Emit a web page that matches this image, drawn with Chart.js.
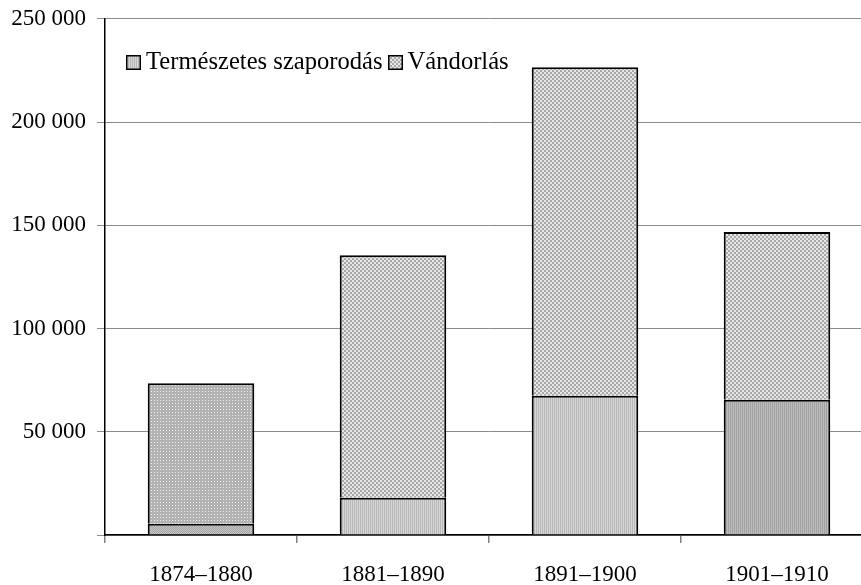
<!DOCTYPE html>
<html>
<head>
<meta charset="utf-8">
<script src="https://cdn.jsdelivr.net/npm/chart.js@4/dist/chart.umd.min.js"></script>
<style>
  html, body { margin:0; padding:0; background:#fff; overflow:hidden; }
  #wrap { position:relative; width:861px; height:585px; overflow:hidden; }
  #c { position:absolute; left:0; top:-6px; }
  #legend { position:absolute; left:126px; top:46px; font-family:"Liberation Serif","Times New Roman",serif; font-size:24.6px; color:#000; white-space:nowrap; line-height:29px; }
  #legend span.item { display:inline-block; margin-right:5px; }
  #legend canvas { vertical-align:-1px; margin-right:5px; }
</style>
</head>
<body>
<div id="wrap">
  <canvas id="c" width="880" height="591"></canvas>
  <div id="legend"></div>
</div>
<script>
// ---- data ----
const categories = ['1874–1880', '1881–1890', '1891–1900', '1901–1910'];
const seriesNames = ['Természetes szaporodás', 'Vándorlás'];
const naturalIncrease = [5500, 18000, 67500, 65500];
const migration = [68000, 117500, 159000, 81300];
const yTicks = [0, 50000, 100000, 150000, 200000, 250000];

// ---- patterns ----
function makePattern(kind) {
  const p = document.createElement('canvas');
  p.width = 4; p.height = 4;
  const g = p.getContext('2d');
  if (kind === 'stripes') {
    for (let x = 0; x < 4; x++) { g.fillStyle = (x % 2) ? '#d6d6d6' : '#b8b8b8'; g.fillRect(x, 0, 1, 4); }
  } else if (kind === 'stripesDark') {
    for (let x = 0; x < 4; x++) { g.fillStyle = (x % 2) ? '#bcbcbc' : '#a2a2a2'; g.fillRect(x, 0, 1, 4); }
  } else if (kind === 'checker') {
    for (let x = 0; x < 4; x++) for (let y = 0; y < 4; y++) {
      g.fillStyle = ((Math.floor(x/2) + Math.floor(y/2)) % 2) ? '#e6e6e6' : '#a8a8a8';
      g.fillRect(x, y, 1, 1);
    }
  } else if (kind === 'dots') {
    p.width = 3; p.height = 3;
    g.fillStyle = '#b2b2b2'; g.fillRect(0, 0, 3, 3);
    g.fillStyle = '#f0f0f0'; g.fillRect(1, 1, 1, 1);
  } else if (kind === 'fineDark') {
    p.width = 2; p.height = 2;
    g.fillStyle = '#a8a8a8'; g.fillRect(0, 0, 2, 2);
    g.fillStyle = '#c4c4c4'; g.fillRect(1, 0, 1, 1); g.fillRect(0, 1, 1, 1);
  }
  return document.getElementById('c').getContext('2d').createPattern(p, 'repeat');
}
const pStripes = makePattern('stripes');
const pStripesDark = makePattern('stripesDark');
const pChecker = makePattern('checker');
const pDots = makePattern('dots');
const pFineDark = makePattern('fineDark');

const fmt = v => String(v).replace(/\B(?=(\d{3})+(?!\d))/g, ' ');

const chart = new Chart(document.getElementById('c'), {
  type: 'bar',
  data: {
    labels: categories,
    datasets: [
      { label: seriesNames[0], data: naturalIncrease,
        backgroundColor: [pFineDark, pStripes, pStripes, pStripesDark],
        borderColor: '#000', borderWidth: 2, borderSkipped: 'start' },
      { label: seriesNames[1], data: migration,
        backgroundColor: [pDots, pChecker, pChecker, pChecker],
        borderColor: '#000', borderWidth: 2, borderSkipped: 'start' }
    ]
  },
  options: {
    responsive: false,
    animation: false,
    devicePixelRatio: 1,
    layout: { autoPadding: false, padding: { top: 11, right: 7, left: 0, bottom: 0 } },
    plugins: { legend: { display: false }, tooltip: { enabled: false } },
    datasets: { bar: { categoryPercentage: 1.0, barPercentage: 0.555 } },
    scales: {
      x: {
        stacked: true,
        afterFit: s => { s.height = 50; },
        grid: { offset: true, drawOnChartArea: false, drawTicks: true, tickLength: 8, color: '#808080', lineWidth: 1.5 },
        border: { display: true, color: '#000', width: 1.5 },
        ticks: { color: '#000', padding: 18, font: { family: '"Liberation Serif", "Times New Roman", serif', size: 23 }, maxRotation: 0 }
      },
      y: {
        stacked: true,
        min: yTicks[0], max: yTicks[yTicks.length - 1],
        afterFit: s => { s.width = 105; },
        afterBuildTicks: s => { s.ticks = yTicks.map(v => ({ value: v })); },
        grid: { color: '#8c8c8c', lineWidth: 1, tickLength: 8 },
        border: { display: true, color: '#000', width: 1.5 },
        ticks: { color: '#000', padding: 11, font: { family: '"Liberation Serif", "Times New Roman", serif', size: 23 },
          callback: v => v === 0 ? '' : fmt(v) }
      }
    }
  }
});

// ---- HTML legend built from datasets ----
const legend = document.getElementById('legend');
chart.data.datasets.forEach((ds, i) => {
  const item = document.createElement('span');
  item.className = 'item';
  const sw = document.createElement('canvas');
  sw.width = 15; sw.height = 15;
  const g = sw.getContext('2d');
  g.fillStyle = i === 0 ? pStripes : pChecker;
  g.fillRect(0, 0, 15, 15);
  g.strokeStyle = '#000'; g.lineWidth = 1.5;
  g.strokeRect(0.75, 0.75, 13.5, 13.5);
  item.appendChild(sw);
  item.appendChild(document.createTextNode(ds.label));
  legend.appendChild(item);
});
</script>
</body>
</html>
